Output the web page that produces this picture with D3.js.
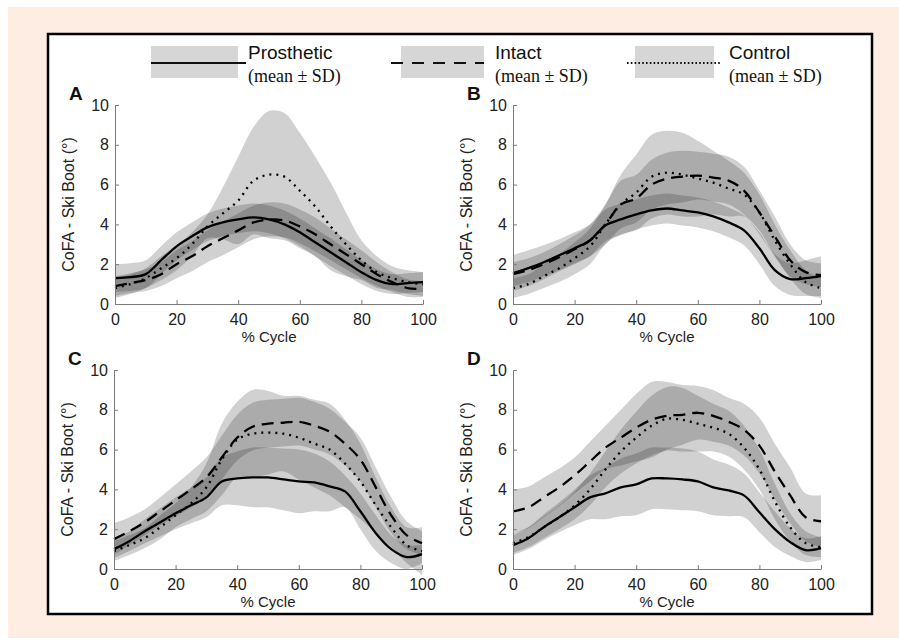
<!DOCTYPE html>
<html>
<head>
<meta charset="utf-8">
<script src="https://cdn.jsdelivr.net/npm/d3@7"></script>
<style>
  body { margin: 0; background: #fff; }
  svg text { font-family: "Liberation Sans", Arial, sans-serif; }
</style>
</head>
<body>
<script>
const width = 899,
  height = 639;

// % of the cycle at which the curves were read
const cycle = [0, 5, 10, 15, 20, 25, 30, 35, 40, 45, 50, 55, 60, 65, 70, 75, 80, 85, 90, 95, 100];
const groups = ['Prosthetic', 'Intact', 'Control'];
const xTicks = [0, 20, 40, 60, 80, 100];
const yTicks = [0, 2, 4, 6, 8, 10];

// panel A
const aProsMean = [1.3, 1.35, 1.5, 2.2, 2.9, 3.4, 3.85, 4.1, 4.25, 4.35, 4.25, 4.0, 3.6, 3.1, 2.6, 2.1, 1.6, 1.2, 1.0, 1.05, 1.1];
const aProsSD = [0.7, 0.7, 0.7, 0.7, 0.7, 0.7, 0.7, 0.7, 0.7, 0.7, 0.7, 0.7, 0.7, 0.7, 0.7, 0.65, 0.6, 0.55, 0.5, 0.5, 0.5];
const aIntMean = [0.9, 1.05, 1.2, 1.5, 2.0, 2.4, 2.9, 3.3, 3.7, 4.1, 4.25, 4.2, 3.9, 3.5, 3.0, 2.5, 2.0, 1.5, 1.1, 0.8, 0.75];
const aIntSD = [0.5, 0.5, 0.55, 0.6, 0.7, 0.75, 0.8, 0.85, 0.85, 0.85, 0.85, 0.85, 0.85, 0.85, 0.8, 0.75, 0.7, 0.6, 0.5, 0.45, 0.4];
const aCtrlMean = [0.8, 1.0, 1.3, 1.8, 2.3, 3.0, 3.9, 4.55, 5.2, 6.2, 6.5, 6.4, 5.7, 4.9, 3.9, 3.0, 2.2, 1.6, 1.3, 1.1, 1.0];
const aCtrlSD = [0.5, 0.5, 0.5, 0.6, 0.6, 0.6, 0.6, 1.3, 2.2, 2.7, 3.2, 3.2, 2.9, 2.5, 2.2, 1.6, 1.0, 0.8, 0.6, 0.6, 0.6];

// panel B
const bProsMean = [1.55, 1.8, 2.1, 2.45, 2.8, 3.2, 3.95, 4.25, 4.5, 4.7, 4.8, 4.7, 4.6, 4.4, 4.1, 3.7, 2.8, 1.7, 1.25, 1.3, 1.4];
const bProsSD = [0.9, 0.9, 0.85, 0.8, 0.8, 0.8, 0.8, 0.8, 0.75, 0.75, 0.75, 0.75, 0.75, 0.75, 0.75, 0.75, 0.8, 0.8, 0.8, 0.9, 1.0];
const bIntMean = [1.5, 1.7, 2.0, 2.35, 2.75, 3.2, 4.0, 5.0, 5.3, 6.0, 6.3, 6.4, 6.45, 6.35, 6.2, 5.7, 4.6, 3.4, 2.2, 1.6, 1.45];
const bIntSD = [0.6, 0.6, 0.6, 0.65, 0.7, 0.8, 1.0, 1.2, 1.2, 1.25, 1.3, 1.3, 1.2, 1.2, 1.2, 1.2, 1.1, 1.0, 0.8, 0.6, 0.6];
const bCtrlMean = [0.8, 1.0, 1.4, 1.8, 2.3, 2.9, 4.0, 5.0, 5.6, 6.4, 6.6, 6.5, 6.3, 6.1, 5.8, 5.5, 4.6, 3.2, 2.0, 1.1, 0.8];
const bCtrlSD = [0.5, 0.5, 0.6, 0.7, 0.8, 0.9, 1.0, 1.5, 1.9, 2.1, 2.1, 2.1, 1.9, 1.6, 1.4, 1.1, 0.9, 0.8, 0.7, 0.6, 0.5];

// panel C
const cProsMean = [1.0, 1.4, 1.9, 2.35, 2.8, 3.2, 3.6, 4.4, 4.55, 4.6, 4.6, 4.5, 4.4, 4.35, 4.15, 3.9, 2.9, 1.8, 1.0, 0.6, 0.75];
const cProsSD = [0.45, 0.5, 0.6, 0.7, 0.8, 0.9, 1.0, 1.2, 1.35, 1.5, 1.5, 1.55, 1.6, 1.45, 1.25, 0.8, 0.9, 0.9, 0.7, 0.6, 0.45];
const cIntMean = [1.5, 1.9, 2.35, 2.9, 3.45, 4.0, 4.6, 5.6, 6.6, 7.15, 7.3, 7.35, 7.4, 7.2, 6.9, 6.3, 5.5, 4.1, 2.7, 1.7, 1.3];
const cIntSD = [0.8, 0.7, 0.65, 0.7, 0.8, 0.9, 1.0, 1.1, 1.15, 1.2, 1.2, 1.2, 1.2, 1.2, 1.15, 1.1, 1.1, 1.0, 0.9, 0.7, 0.6];
const cCtrlMean = [0.9, 1.2, 1.55, 2.1, 2.7, 3.3, 4.1, 5.5, 6.5, 6.8, 6.85, 6.8, 6.6, 6.3, 6.0, 5.3, 4.4, 3.2, 2.1, 1.2, 0.9];
const cCtrlSD = [0.5, 0.5, 0.5, 0.6, 0.6, 0.8, 1.2, 1.8, 1.9, 2.2, 2.1, 1.9, 2.1, 2.2, 2.3, 2.2, 1.9, 1.4, 1.0, 0.9, 1.2];

// panel D
const dProsMean = [1.2, 1.55, 2.1, 2.6, 3.1, 3.6, 3.8, 4.1, 4.25, 4.55, 4.55, 4.5, 4.4, 4.1, 3.95, 3.7, 2.85, 2.0, 1.35, 0.95, 1.05];
const dProsSD = [0.5, 0.55, 0.65, 0.75, 0.9, 1.1, 1.3, 1.45, 1.55, 1.55, 1.55, 1.55, 1.5, 1.4, 1.3, 1.1, 1.0, 0.9, 0.7, 0.6, 0.6];
const dIntMean = [2.9, 3.1, 3.6, 4.1, 4.7, 5.4, 6.1, 6.6, 7.1, 7.5, 7.7, 7.75, 7.85, 7.7, 7.4, 7.0, 6.2, 4.9, 3.7, 2.6, 2.4];
const dIntSD = [1.1, 1.05, 1.0, 0.95, 0.9, 1.0, 1.1, 1.4, 1.7, 1.9, 1.7, 1.5, 1.35, 1.3, 1.2, 1.3, 1.4, 1.4, 1.4, 1.2, 1.3];
const dCtrlMean = [1.3, 1.6, 2.1, 2.6, 3.2, 4.0, 5.0, 5.9, 6.6, 7.2, 7.55, 7.5, 7.3, 7.1, 6.8, 6.1, 5.0, 3.4, 2.1, 1.3, 1.1];
const dCtrlSD = [0.5, 0.5, 0.55, 0.6, 0.7, 0.8, 0.9, 1.1, 1.3, 1.5, 1.6, 1.6, 1.4, 1.2, 1.15, 1.1, 1.0, 0.9, 0.7, 0.6, 0.5];

const panels = [
  { label: 'A', left: 115, top: 105, series: [[aProsMean, aProsSD], [aIntMean, aIntSD], [aCtrlMean, aCtrlSD]] },
  { label: 'B', left: 513, top: 105, series: [[bProsMean, bProsSD], [bIntMean, bIntSD], [bCtrlMean, bCtrlSD]] },
  { label: 'C', left: 114, top: 370, series: [[cProsMean, cProsSD], [cIntMean, cIntSD], [cCtrlMean, cCtrlSD]] },
  { label: 'D', left: 513, top: 370, series: [[dProsMean, dProsSD], [dIntMean, dIntSD], [dCtrlMean, dCtrlSD]] }
];

const pw = 308,
  ph = 199;

// line style per group: solid / dashed / dotted
const dash = ['none', '12,7', '2,5'];
const legendDash = ['none', '12,9', '1.6,2.2'];

const svg = d3
  .select('body')
  .append('svg')
  .attr('width', width)
  .attr('height', height);

svg.append('rect').attr('x', 8).attr('y', 7).attr('width', width - 8).attr('height', 631).attr('fill', '#fdede3');
svg
  .append('rect')
  .attr('x', 48)
  .attr('y', 34)
  .attr('width', 824)
  .attr('height', 580)
  .attr('fill', '#fff')
  .attr('stroke', '#000')
  .attr('stroke-width', 2.5);

// legend
const legendRects = [[151, 87], [401, 83], [635, 79]];
const legendLines = [[151, 246], [391, 484], [627, 720]];
const legendText = [248, 495, 729];
groups.forEach((g, i) => {
  svg
    .append('rect')
    .attr('x', legendRects[i][0])
    .attr('y', 46)
    .attr('width', legendRects[i][1])
    .attr('height', 32)
    .attr('fill', '#d6d6d6');
  svg
    .append('line')
    .attr('x1', legendLines[i][0])
    .attr('x2', legendLines[i][1])
    .attr('y1', 63)
    .attr('y2', 63)
    .attr('stroke', '#111')
    .attr('stroke-width', 2)
    .attr('stroke-dasharray', legendDash[i]);
  svg.append('text').attr('x', legendText[i]).attr('y', 59).attr('font-size', 19).attr('fill', '#111').text(g);
  svg
    .append('text')
    .attr('x', legendText[i])
    .attr('y', 82)
    .attr('font-size', 18)
    .attr('fill', '#111')
    .style('font-family', '"Liberation Serif", "Times New Roman", serif')
    .text('(mean ± SD)');
});

panels.forEach(p => {
  const x = d3.scaleLinear().domain([0, 100]).range([p.left, p.left + pw]);
  const y = d3.scaleLinear().domain([0, 10]).range([p.top + ph, p.top]);
  const g = svg.append('g');

  const area = d3
    .area()
    .curve(d3.curveCatmullRom)
    .x(d => x(d.t))
    .y0(d => y(d.m - d.s))
    .y1(d => y(d.m + d.s));
  const line = d3
    .line()
    .curve(d3.curveCatmullRom)
    .x(d => x(d.t))
    .y(d => y(d.m));

  const rows = p.series.map(([mean, sd]) => cycle.map((t, i) => ({ t: t, m: mean[i], s: sd[i] })));

  // SD bands first, lines on top
  rows.forEach(r => {
    g.append('path').datum(r).attr('d', area).attr('fill', '#000').attr('fill-opacity', 0.18);
  });
  rows.forEach((r, i) => {
    g.append('path')
      .datum(r)
      .attr('d', line)
      .attr('fill', 'none')
      .attr('stroke', '#000')
      .attr('stroke-width', 2.3)
      .attr('stroke-dasharray', dash[i]);
  });

  const xAxis = g
    .append('g')
    .attr('transform', `translate(0,${p.top + ph})`)
    .call(d3.axisBottom(x).tickValues(xTicks).tickSize(-4).tickSizeOuter(0).tickPadding(10));
  const yAxis = g
    .append('g')
    .attr('transform', `translate(${p.left},0)`)
    .call(d3.axisLeft(y).tickValues(yTicks).tickSize(-4).tickSizeOuter(0).tickPadding(6));
  [xAxis, yAxis].forEach(a => {
    a.selectAll('path, line').attr('stroke', '#7a7a7a');
    a.selectAll('text').attr('font-size', 16).attr('fill', '#222').style('font-family', '"Liberation Sans", Arial, sans-serif');
  });

  g.append('text')
    .attr('x', p.left + pw / 2)
    .attr('y', p.top + ph + 38)
    .attr('text-anchor', 'middle')
    .attr('font-size', 15)
    .attr('fill', '#222')
    .text('% Cycle');
  g.append('text')
    .attr('transform', `translate(${p.left - 41},${p.top + ph / 2}) rotate(-90)`)
    .attr('text-anchor', 'middle')
    .attr('font-size', 16)
    .attr('fill', '#222')
    .text('CoFA - Ski Boot (°)');
  g.append('text')
    .attr('x', p.left - 46)
    .attr('y', p.top - 5)
    .attr('font-size', 19)
    .attr('font-weight', 'bold')
    .attr('fill', '#111')
    .text(p.label);
});
</script>
</body>
</html>
